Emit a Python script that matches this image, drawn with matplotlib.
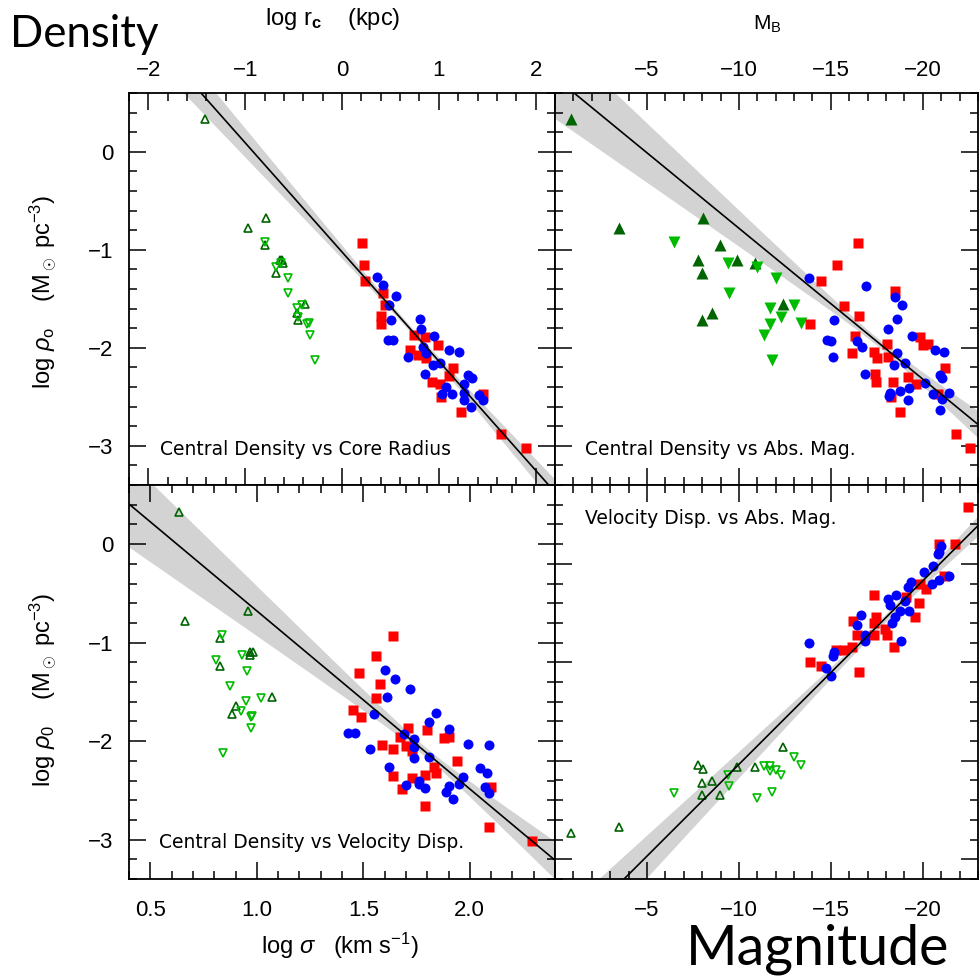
import numpy as np
import matplotlib
matplotlib.use("Agg")
import matplotlib.pyplot as plt
from matplotlib.ticker import MultipleLocator, FuncFormatter

plt.rcParams['font.family'] = ['Liberation Sans', 'DejaVu Sans']
plt.rcParams['mathtext.fontset'] = 'custom'
plt.rcParams['mathtext.rm'] = 'Liberation Sans'
plt.rcParams['mathtext.it'] = 'Liberation Sans:italic'
plt.rcParams['mathtext.bf'] = 'Liberation Sans:bold'

# ---------------- dwarf samples (same objects in every panel) ----------------
# open / filled upward triangles (dark green)
up_log_rc = [-1.41, -0.97, -0.78, -0.80, -0.62, -0.64, -0.68, -0.61, -0.38, -0.46, -0.45]
up_log_sig = [0.635, 0.665, 0.96, 0.825, 0.98, 0.968, 0.825, 0.97, 1.07, 0.90, 0.885]
up_MB = [-0.85, -3.47, -8.07, -8.98, -7.78, -9.90, -8.00, -10.90, -12.40, -8.55, -7.98]
up_log_rho = [0.33, -0.78, -0.68, -0.95, -1.10, -1.10, -1.24, -1.13, -1.556, -1.64, -1.72]

# open / filled downward triangles (light green)
dn_log_rc = [-0.795, -0.625, -0.68, -0.56, -0.56, -0.46, -0.41, -0.45, -0.34, -0.36, -0.33, -0.275]
dn_log_sig = [0.838, 0.93, 0.81, 0.953, 0.874, 0.95, 1.02, 0.928, 0.978, 0.974, 0.974, 0.84]
dn_MB = [-6.47, -9.43, -10.99, -12.04, -9.48, -11.7, -13.0, -12.3, -13.4, -11.7, -11.38, -11.8]
dn_log_rho = [-0.92, -1.13, -1.18, -1.29, -1.44, -1.59, -1.56, -1.69, -1.745, -1.76, -1.865, -2.12]

# ---------------- central density vs core radius ----------------
core_red_rc = [0.21, 0.23, 0.24, 0.42, 0.44, 0.40, 0.40, 0.74, 0.86, 0.99, 0.70, 0.79,
               0.87, 1.15, 1.10, 0.93, 1.01, 1.02, 1.23, 1.46, 1.64, 1.90]
core_red_rho = [-0.93, -1.15, -1.32, -1.44, -1.56, -1.68, -1.76, -1.87, -1.89, -1.97, -2.02, -2.07,
                -2.10, -2.21, -2.29, -2.35, -2.37, -2.50, -2.66, -2.47, -2.88, -3.02]
core_blue_rc = [0.36, 0.42, 0.56, 0.49, 0.51, 0.47, 0.53, 0.81, 0.82, 0.95, 1.11, 1.21, 0.68, 0.84,
                0.87, 0.94, 1.01, 0.86, 1.30, 1.34, 1.26, 1.07, 1.03, 1.14, 1.26, 1.26, 1.41, 1.46, 1.33]
core_blue_rho = [-1.28, -1.36, -1.47, -1.56, -1.72, -1.92, -1.92, -1.71, -1.81, -1.88, -2.02, -2.04,
                 -2.09, -1.99, -2.05, -2.18, -2.16, -2.27, -2.28, -2.31, -2.37, -2.40, -2.47, -2.47,
                 -2.46, -2.53, -2.48, -2.53, -2.60]

# ---------------- central density vs absolute magnitude ----------------
mag_red_MB = [-16.49, -15.31, -14.49, -13.85, -18.49, -15.71, -16.54, -16.31, -16.16, -17.36, -17.49,
              -18.04, -18.09, -19.86, -20.00, -20.28, -21.22, -17.40, -17.44, -18.40, -19.18, -19.62,
              -18.26, -18.76, -20.85, -21.82, -22.55]
mag_red_rho = [-0.93, -1.15, -1.32, -1.76, -1.42, -1.57, -1.68, -1.88, -2.05, -2.04, -2.10, -1.96,
               -2.09, -1.89, -1.97, -1.96, -2.21, -2.27, -2.35, -2.35, -2.30, -2.37, -2.50, -2.66,
               -2.47, -2.88, -3.02]
mag_blue_MB = [-13.80, -16.89, -18.49, -18.89, -15.16, -18.62, -18.13, -19.40, -14.77, -15.00, -16.43,
               -16.67, -15.13, -18.58, -18.45, -19.04, -20.64, -21.13, -16.86, -20.95, -21.04, -20.13,
               -18.76, -19.27, -18.22, -18.18, -19.22, -20.55, -21.44, -21.04, -20.95]
mag_blue_rho = [-1.29, -1.37, -1.48, -1.56, -1.72, -1.71, -1.81, -1.88, -1.92, -1.93, -1.93, -1.99,
                -2.09, -2.05, -2.18, -2.16, -2.02, -2.04, -2.27, -2.28, -2.31, -2.36, -2.44, -2.41,
                -2.46, -2.49, -2.53, -2.47, -2.46, -2.52, -2.63]

# ---------------- central density vs velocity dispersion ----------------
disp_red_sig = [1.64, 1.56, 1.48, 1.58, 1.56, 1.45, 1.49, 1.71, 1.67, 1.80, 1.88, 1.90, 1.59, 1.64,
                1.70, 1.73, 1.94, 1.83, 1.84, 1.64, 1.73, 1.79, 1.68, 2.10, 2.09, 2.29, 1.79]
disp_red_rho = [-0.93, -1.14, -1.31, -1.42, -1.56, -1.68, -1.76, -1.87, -1.96, -1.89, -1.97, -1.96,
                -2.04, -2.08, -2.05, -2.10, -2.20, -2.26, -2.32, -2.35, -2.37, -2.34, -2.49, -2.47,
                -2.87, -3.01, -2.66]
disp_blue_sig = [1.60, 1.65, 1.72, 1.61, 1.55, 1.84, 1.81, 1.90, 1.43, 1.46, 1.69, 1.74, 1.74, 1.99,
                 2.09, 1.53, 1.74, 1.81, 1.62, 2.05, 2.08, 1.97, 1.76, 1.76, 1.70, 1.79, 1.90, 1.89,
                 1.95, 2.07, 2.09, 1.92]
disp_blue_rho = [-1.28, -1.37, -1.47, -1.55, -1.72, -1.71, -1.81, -1.88, -1.92, -1.92, -1.93, -1.98,
                 -2.06, -2.03, -2.04, -2.08, -2.17, -2.16, -2.26, -2.27, -2.32, -2.36, -2.41, -2.44,
                 -2.45, -2.48, -2.46, -2.52, -2.44, -2.47, -2.53, -2.59]

# ---------------- velocity dispersion vs absolute magnitude ----------------
vm_red_MB = [-22.47, -20.89, -21.75, -21.16, -19.85, -20.18, -19.10, -17.34, -19.78, -19.55, -16.20,
             -17.45, -17.34, -17.94, -16.41, -17.34, -18.03, -18.42, -16.15, -15.70, -15.30, -13.87,
             -14.48, -16.51]
vm_red_sig = [2.29, 2.10, 2.10, 1.94, 1.90, 1.87, 1.83, 1.84, 1.80, 1.73, 1.71, 1.73, 1.70, 1.67,
              1.64, 1.64, 1.64, 1.58, 1.58, 1.56, 1.56, 1.50, 1.48, 1.45]
vm_blue_MB = [-20.98, -20.86, -20.81, -20.57, -20.09, -21.40, -20.89, -20.50, -19.37, -19.19, -19.01,
              -18.56, -18.12, -18.20, -18.74, -19.25, -18.47, -18.30, -16.65, -16.41, -16.86, -16.86,
              -18.83, -13.82, -15.16, -15.12, -14.76, -14.98]
vm_blue_sig = [2.09, 2.06, 2.05, 1.99, 1.96, 1.94, 1.92, 1.90, 1.91, 1.88, 1.81, 1.84, 1.82, 1.79,
               1.76, 1.76, 1.73, 1.70, 1.74, 1.69, 1.64, 1.61, 1.61, 1.60, 1.55, 1.53, 1.47, 1.43]

# ---------------- regression fits: intercept, slope; band: pivot, half-width at pivot, growth ----
fit_core = (-1.022, -1.114)
band_core = (0.70, 0.03, 0.085)
fit_mag = (0.760, 0.154)
band_mag = (-17.5, 0.04, 0.024)
fit_disp = (1.130, -1.808)
band_disp = (1.80, 0.05, 0.31)
fit_vm = (0.050, -0.0932)
band_vm = (-17.5, 0.02, 0.0085)

RED = '#ff0000'
BLUE = '#0000ff'
DKGREEN = '#006400'
LTGREEN = '#00bb00'
BAND = '#d3d3d3'

W = H = 980
fig = plt.figure(figsize=(9.8, 9.8), dpi=100)


def rect(x0, y0, x1, y1):
    return [x0 / W, 1 - y1 / H, (x1 - x0) / W, (y1 - y0) / H]


ax_tl = fig.add_axes(rect(129, 93, 555, 485))
ax_tr = fig.add_axes(rect(555, 93, 978, 485))
ax_bl = fig.add_axes(rect(129, 485, 555, 879))
ax_br = fig.add_axes(rect(555, 485, 978, 879))


def mag_fmt(v, pos):
    if abs(v) < 1e-9:
        return ''
    return '\u2212%d' % round(-v) if v < 0 else '%d' % round(v)


def style(ax, xlim, ylim, xmaj, xmin, ymaj, ymin):
    ax.set_xlim(*xlim)
    ax.set_ylim(*ylim)
    ax.xaxis.set_major_locator(MultipleLocator(xmaj))
    ax.xaxis.set_minor_locator(MultipleLocator(xmin))
    ax.yaxis.set_major_locator(MultipleLocator(ymaj))
    ax.yaxis.set_minor_locator(MultipleLocator(ymin))
    ax.tick_params(which='both', direction='in', top=True, bottom=True, left=True, right=True,
                   labeltop=False, labelbottom=False, labelleft=False, labelright=False,
                   width=1.1, labelsize=16)
    ax.tick_params(which='major', length=12)
    ax.tick_params(which='minor', length=6)
    ax.tick_params(axis='x', pad=9)
    ax.tick_params(axis='y', pad=11)
    for s in ax.spines.values():
        s.set_linewidth(1.3)
        s.set_color('black')


def fit_line(ax, xlim, fit, band):
    a, b = fit
    x0, h0, k = band
    xs = np.linspace(min(xlim), max(xlim), 300)
    ys = a + b * xs
    half = np.sqrt(h0 ** 2 + (k * (xs - x0)) ** 2)
    ax.fill_between(xs, ys - half, ys + half, color=BAND, lw=0, zorder=1)
    ax.plot(xs, ys, color='black', lw=1.2, zorder=6)


def open_tris(ax, xu, yu, xd, yd):
    ax.plot(xu, yu, ls='none', marker='^', ms=6, mfc='none', mec=DKGREEN, mew=1.2, zorder=3)
    ax.plot(xd, yd, ls='none', marker='v', ms=6, mfc='none', mec=LTGREEN, mew=1.2, zorder=3)


def galaxies(ax, xr, yr, xb, yb):
    ax.plot(xr, yr, ls='none', marker='s', ms=6.6, color=RED, mec='none', zorder=4)
    ax.plot(xb, yb, ls='none', marker='o', ms=7.2, color=BLUE, mec='none', zorder=5)


TEXT_KW = dict(fontsize=13.5, family='DejaVu Sans', color='black', va='center', ha='left')

# -------- top-left: density vs core radius --------
xl = (-2.2, 2.2)
style(ax_tl, xl, (-3.4, 0.6), 1, 0.2, 1, 0.2)
fit_line(ax_tl, xl, fit_core, band_core)
open_tris(ax_tl, up_log_rc, up_log_rho, dn_log_rc, dn_log_rho)
galaxies(ax_tl, core_red_rc, core_red_rho, core_blue_rc, core_blue_rho)
ax_tl.tick_params(labeltop=True, labelleft=True)
ax_tl.text(0.072, 0.09, 'Central Density vs Core Radius', transform=ax_tl.transAxes, **TEXT_KW)

# -------- top-right: density vs absolute magnitude --------
xl = (0, -23)
style(ax_tr, xl, (-3.4, 0.6), 5, 1, 1, 0.2)
fit_line(ax_tr, xl, fit_mag, band_mag)
ax_tr.plot(up_MB, up_log_rho, ls='none', marker='^', ms=8, color=DKGREEN, mec='none', zorder=3)
ax_tr.plot(dn_MB, dn_log_rho, ls='none', marker='v', ms=8, color=LTGREEN, mec='none', zorder=3)
galaxies(ax_tr, mag_red_MB, mag_red_rho, mag_blue_MB, mag_blue_rho)
ax_tr.xaxis.set_major_formatter(FuncFormatter(mag_fmt))
ax_tr.tick_params(labeltop=True)
ax_tr.text(0.071, 0.09, 'Central Density vs Abs. Mag.', transform=ax_tr.transAxes, **TEXT_KW)

# -------- bottom-left: density vs velocity dispersion --------
xl = (0.4, 2.4)
style(ax_bl, xl, (-3.4, 0.6), 0.5, 0.1, 1, 0.2)
fit_line(ax_bl, xl, fit_disp, band_disp)
open_tris(ax_bl, up_log_sig, up_log_rho, dn_log_sig, dn_log_rho)
galaxies(ax_bl, disp_red_sig, disp_red_rho, disp_blue_sig, disp_blue_rho)
ax_bl.xaxis.set_major_formatter(FuncFormatter(lambda v, p: '%.1f' % v))
ax_bl.tick_params(labelbottom=True, labelleft=True)
ax_bl.tick_params(axis='x', pad=15)
ax_bl.text(0.07, 0.092, 'Central Density vs Velocity Disp.', transform=ax_bl.transAxes, **TEXT_KW)

# -------- bottom-right: velocity dispersion vs absolute magnitude --------
xl = (0, -23)
style(ax_br, xl, (0.4, 2.4), 5, 1, 0.5, 0.1)
fit_line(ax_br, xl, fit_vm, band_vm)
open_tris(ax_br, up_MB, up_log_sig, dn_MB, dn_log_sig)
galaxies(ax_br, vm_red_MB, vm_red_sig, vm_blue_MB, vm_blue_sig)
ax_br.xaxis.set_major_formatter(FuncFormatter(mag_fmt))
ax_br.tick_params(labelbottom=True)
ax_br.tick_params(axis='x', pad=15)
ax_br.text(0.071, 0.915, 'Velocity Disp. vs Abs. Mag.', transform=ax_br.transAxes, **TEXT_KW)

# -------- axis titles --------
fig.text(333 / W, 1 - 19 / H, r'log r$_\mathbf{c}$    (kpc)', fontsize=17, ha='center', va='center')
fig.text(767 / W, 1 - 24 / H, r'M$_\mathrm{B}$', fontsize=15, ha='center', va='center')
fig.text(340 / W, 1 - 946 / H, r'log $\sigma$   (km s$^{-1}$)', fontsize=17, ha='center', va='center')
ylab = r'log $\rho_\mathrm{o}$    (M$_\odot$ pc$^{-3}$)'
fig.text(43 / W, 1 - 292 / H, ylab, fontsize=17, rotation=90, ha='center', va='center')
fig.text(43 / W, 1 - 690 / H, ylab.replace(r'\mathrm{o}', '0'), fontsize=17, rotation=90,
         ha='center', va='center')

# -------- panel group captions --------
fig.text(10 / W, 1 - 47 / H, 'Density', fontsize=31.5, family='Lato', ha='left', va='baseline')
fig.text(686 / W, 1 - 964 / H, 'Magnitude', fontsize=40, family='Lato', ha='left', va='baseline')

fig.savefig('out.png', dpi=100, facecolor='white')
